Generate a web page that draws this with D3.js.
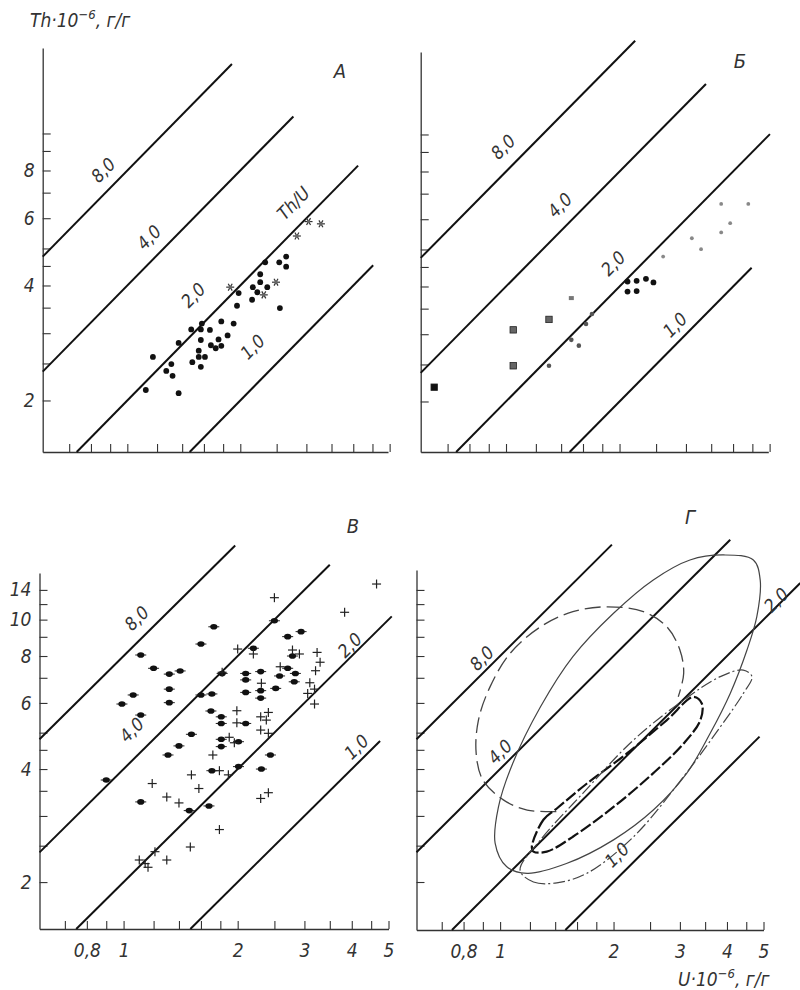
<!DOCTYPE html>
<html>
<head>
<meta charset="utf-8">
<script src="https://cdn.jsdelivr.net/npm/d3@7"></script>
<style>
  body { margin: 0; background: #fff; }
  text { font-family: "DejaVu Sans Condensed", "Liberation Sans Narrow", "DejaVu Sans", sans-serif; font-stretch: condensed; font-style: italic; fill: #333; }
</style>
</head>
<body>
<svg id="chart" width="800" height="990"></svg>
<script>
// axis ticks (U on x, Th on y, both 10^-6 g/g)
const uTicks = [0.7, 0.8, 0.9, 1, 1.2, 1.4, 1.6, 1.8, 2, 2.5, 3, 3.5, 4, 4.5, 5];
const uTickLabels = { 0.8: '0,8', 1: '1', 2: '2', 3: '3', 4: '4', 5: '5' };
const thTicksTop = [2, 2.5, 3, 3.5, 4, 4.5, 5, 6, 7, 8, 9, 10];
const thTicksBottom = [2, 2.5, 3, 3.5, 4, 4.5, 5, 6, 7, 8, 9, 10, 11, 12];
const thLabelsTop = { 2: '2', 4: '4', 6: '6', 8: '8' };
const thLabelsBottom = { 2: '2', 4: '4', 6: '6', 8: '8', 10: '10', 12: '14' };

// Th/U ratio lines and the U where each one stops, per panel
const ratios = [8, 4, 2, 1];
const ratioNames = ['8,0', '4,0', '2,0', '1,0'];
const lineEndA = [1.90, 2.77, 4.12, 4.52];
const lineEndB = [2.20, 3.39, 5.01, 4.48];
const lineEndV = [1.97, 3.50, 5.10, 4.75];
const lineEndG = [1.98, 4.08, 6.26, 4.88];

// panel А  [U, Th]
const aDots = [
  [2.65, 4.76], [2.33, 4.60], [2.54, 4.60], [2.65, 4.48], [2.26, 4.28], [2.16, 3.96],
  [2.26, 4.08], [2.36, 3.96], [2.22, 3.84], [1.98, 3.82], [2.15, 3.67], [1.96, 3.54],
  [2.55, 3.49], [1.58, 3.18], [1.78, 3.22], [1.48, 3.07], [1.57, 3.07], [1.66, 3.06],
  [1.92, 3.18], [1.57, 2.88], [1.85, 2.96], [1.75, 2.89], [1.37, 2.83], [1.67, 2.79],
  [1.72, 2.74], [1.78, 2.78], [1.55, 2.70], [1.17, 2.60], [1.49, 2.52], [1.55, 2.60],
  [1.61, 2.60], [1.57, 2.45], [1.31, 2.49], [1.27, 2.39], [1.32, 2.32], [1.12, 2.13],
  [1.37, 2.09]
];
const aStars = [[3.04, 5.88], [3.28, 5.80], [2.83, 5.39], [2.49, 4.08], [2.31, 3.78], [1.88, 3.96]];

// panel Б
const bSquares = [[0.645, 2.18], [1.045, 2.48], [1.045, 3.08], [1.30, 3.28]];
const bHalf = [[1.49, 3.73]];
const bGreyDots = [[1.30, 2.48], [1.49, 2.90], [1.56, 2.80], [1.63, 3.19], [1.69, 3.39]];
const bBlackDots = [[2.10, 4.12], [2.22, 4.14], [2.35, 4.19], [2.46, 4.10], [2.10, 3.88], [2.22, 3.89]];
const bSmallDots = [[2.61, 4.79], [3.11, 5.35], [3.29, 5.01], [3.72, 6.58], [3.93, 5.86], [3.72, 5.54], [4.39, 6.58]];

// panel В
const vDots = [
  [0.90, 3.74], [0.99, 5.96], [1.06, 6.30], [1.11, 8.05], [1.11, 5.57], [1.11, 3.27],
  [1.20, 7.42], [1.32, 7.16], [1.32, 6.53], [1.32, 6.01], [1.31, 4.36], [1.41, 7.30],
  [1.40, 4.61], [1.49, 3.10], [1.51, 4.95], [1.60, 8.61], [1.60, 6.30], [1.68, 3.19],
  [1.73, 9.57], [1.71, 6.34], [1.70, 5.71], [1.71, 3.96], [1.81, 5.51], [1.81, 5.29],
  [1.81, 4.80], [1.81, 4.59], [1.82, 7.19], [2.01, 4.73], [2.01, 4.06], [2.10, 7.19],
  [2.10, 6.91], [2.10, 6.40], [2.10, 5.29], [2.20, 8.39], [2.30, 7.27], [2.30, 6.47],
  [2.30, 6.18], [2.31, 4.00], [2.44, 4.36], [2.50, 9.93], [2.52, 6.56], [2.58, 7.08],
  [2.71, 9.01], [2.71, 7.42], [2.79, 8.00], [2.84, 7.19], [2.82, 6.83], [2.94, 9.29]
];
const vPlus = [
  [4.65, 12.44], [2.50, 11.44], [3.83, 10.46], [2.00, 8.35], [2.20, 8.10], [2.79, 8.30],
  [2.91, 8.10], [3.24, 8.18], [3.30, 7.70], [2.59, 7.49], [3.21, 7.31], [1.82, 7.24],
  [2.31, 6.77], [3.10, 6.79], [3.06, 6.36], [3.19, 6.53], [3.19, 5.96], [1.99, 5.72],
  [1.99, 5.31], [2.30, 5.51], [2.41, 5.66], [2.38, 5.40], [2.30, 5.08], [2.41, 4.98],
  [1.90, 4.86], [1.96, 4.70], [1.72, 4.36], [1.79, 3.96], [1.89, 3.86], [1.51, 3.86],
  [1.19, 3.66], [1.58, 3.55], [1.30, 3.37], [1.40, 3.25], [2.30, 3.34], [2.41, 3.46],
  [1.79, 2.76], [1.50, 2.48], [1.21, 2.41], [1.10, 2.29], [1.14, 2.24], [1.16, 2.19],
  [1.30, 2.29]
];

// panel Г: outlines of the groups
const gSolid = [
  [3.92, 14.87], [4.70, 14.42], [4.90, 12.76], [4.80, 10.18], [4.52, 8.30], [4.08, 6.36],
  [3.61, 4.98], [3.13, 3.90], [2.55, 3.11], [2.00, 2.59], [1.50, 2.24], [1.18, 2.11],
  [1.04, 2.20], [0.97, 2.54], [0.99, 3.17], [1.08, 4.14], [1.28, 5.86], [1.56, 7.97],
  [2.00, 10.40], [2.55, 12.76], [3.19, 14.42]
];
const gLongDash = [
  [1.41, 3.08], [1.18, 3.11], [1.02, 3.31], [0.90, 3.74], [0.864, 4.40], [0.876, 5.40],
  [0.941, 6.63], [1.063, 8.13], [1.28, 9.57], [1.56, 10.50], [1.92, 10.82], [2.40, 10.50],
  [2.77, 9.57], [3.00, 8.30], [3.07, 7.19], [2.97, 6.23]
];
const gBoldDash = [
  [1.214, 2.48], [1.303, 2.93], [1.414, 3.14], [1.70, 3.66], [2.17, 4.40], [2.77, 5.40],
  [3.26, 6.23], [3.43, 5.98], [3.40, 5.40], [3.07, 4.68], [2.55, 3.90], [2.00, 3.17],
  [1.56, 2.64], [1.33, 2.41], [1.226, 2.41]
];
const gDashDot = [
  [1.13, 2.15], [1.226, 2.00], [1.414, 1.99], [1.70, 2.11], [2.26, 2.64], [3.07, 3.82],
  [3.84, 5.18], [4.42, 6.36], [4.66, 7.05], [4.42, 7.34], [3.84, 7.05], [3.07, 6.11],
  [2.26, 4.78], [1.66, 3.45], [1.28, 2.59]
];

const panels = [
  { letter: 'А', xr: [42.7, 388], yr: [452, 48], uDom: [0.595, 4.95], thDom: [1.466, 16.74],
    thTicks: thTicksTop, thLabels: thLabelsTop, xLabels: false, lineEnd: lineEndA,
    labelU: [0.931, 1.237, 1.685, 2.447], labelOff: [17.5, 18.3, 26.8, 28.8], letterAt: [340, 78] },
  { letter: 'Б', xr: [420.7, 768.3], yr: [452, 52], uDom: [0.594, 4.96], thDom: [1.475, 16.44],
    thTicks: thTicksTop, thLabels: {}, xLabels: false, lineEnd: lineEndB,
    labelU: [1.069, 1.508, 2.106, 2.986], labelOff: [19.4, 18.8, 20.7, 14.3], letterAt: [740, 68] },
  { letter: 'В', xr: [39.5, 388.5], yr: [929, 573], uDom: [0.6, 5], thDom: [1.5, 13.31],
    thTicks: thTicksBottom, thLabels: thLabelsBottom, xLabels: true, lineEnd: lineEndV,
    labelU: [1.168, 1.155, 4.11, 4.34], labelOff: [17.5, 22, 9.1, 12.4], letterAt: [353, 533] },
  { letter: 'Г', xr: [416.5, 763.5], yr: [930, 570], uDom: [0.6, 5], thDom: [1.49, 13.56],
    thTicks: thTicksBottom, thLabels: {}, xLabels: true, lineEnd: lineEndG,
    labelU: [0.939, 1.054, 5.52, 2.195], labelOff: [11.3, 12.2, 5, 16.8], letterAt: [690, 524] }
];

const svg = d3.select('#chart');

panels.forEach(drawPanel);

function drawPanel(p, i) {
  const x = d3.scaleLog().domain(p.uDom).range(p.xr);
  const y = d3.scaleLog().domain(p.thDom).range(p.yr);
  const g = svg.append('g').attr('class', 'panel');

  // axes with inward ticks
  const xAxis = d3.axisBottom(x)
    .tickValues(uTicks)
    .tickSize(-8)
    .tickSizeOuter(0)
    .tickPadding(15)
    .tickFormat(d => p.xLabels ? (uTickLabels[d] || '') : '');
  const yAxis = d3.axisLeft(y)
    .tickValues(p.thTicks)
    .tickSize(-8)
    .tickSizeOuter(0)
    .tickPadding(8)
    .tickFormat(d => p.thLabels[d] || '');

  const gx = g.append('g').attr('transform', `translate(0,${p.yr[0]})`).call(xAxis);
  const gy = g.append('g').attr('transform', `translate(${p.xr[0]},0)`).call(yAxis);
  [gx, gy].forEach(a => {
    a.select('.domain').attr('stroke', '#333').attr('stroke-width', 1.3);
    a.selectAll('.tick line').attr('stroke', '#333').attr('stroke-width', 1.1);
    a.selectAll('.tick text').attr('fill', '#333').style('font-size', '19px');
  });

  // ratio lines Th = k * U
  const lines = g.append('g');
  ratios.forEach((k, j) => {
    const u0 = Math.max(p.uDom[0], p.thDom[0] / k);
    const u1 = p.lineEnd[j];
    lines.append('line')
      .attr('x1', x(u0)).attr('y1', y(k * u0))
      .attr('x2', x(u1)).attr('y2', y(k * u1))
      .attr('stroke', '#111')
      .attr('stroke-width', 2);

    const lu = p.labelU[j];
    const px = x(lu), py = y(k * lu);
    const ang = Math.atan2(y(k * lu * 2) - py, x(lu * 2) - px);
    const off = p.labelOff[j];
    lines.append('text')
      .attr('transform', `translate(${px + off * Math.sin(ang)},${py - off * Math.cos(ang)}) rotate(${ang * 180 / Math.PI})`)
      .attr('text-anchor', 'middle')
      .attr('dy', '0.35em')
      .style('font-size', '18px')
      .text(ratioNames[j]);

    if (i === 0 && k === 2) {
      const tu = 3.02, tx = x(tu), ty = y(k * tu);
      lines.append('text')
        .attr('transform', `translate(${tx + 19.7 * Math.sin(ang)},${ty - 19.7 * Math.cos(ang)}) rotate(${ang * 180 / Math.PI})`)
        .attr('text-anchor', 'middle')
        .attr('dy', '0.35em')
        .style('font-size', '18px')
        .text('Th/U');
    }
  });

  g.append('text')
    .attr('x', p.letterAt[0]).attr('y', p.letterAt[1])
    .attr('text-anchor', 'middle')
    .style('font-size', '20px')
    .text(p.letter);

  const marks = g.append('g');
  if (i === 0) {
    marks.selectAll('circle.dot').data(aDots).join('circle')
      .attr('class', 'dot')
      .attr('cx', d => x(d[0])).attr('cy', d => y(d[1]))
      .attr('r', 2.9).attr('fill', '#111');
    const star = marks.selectAll('g.star').data(aStars).join('g')
      .attr('class', 'star')
      .attr('transform', d => `translate(${x(d[0])},${y(d[1])})`);
    [0, 60, 120].forEach(a => {
      star.append('line')
        .attr('x1', -4).attr('x2', 4).attr('y1', 0).attr('y2', 0)
        .attr('transform', `rotate(${a})`)
        .attr('stroke', '#333').attr('stroke-width', 1.2);
    });
    star.append('circle').attr('r', 1.6).attr('fill', '#666');
  }
  if (i === 1) {
    marks.selectAll('rect.sq').data(bSquares).join('rect')
      .attr('class', 'sq')
      .attr('x', d => x(d[0]) - 3.2).attr('y', d => y(d[1]) - 3.2)
      .attr('width', 6.4).attr('height', 6.4)
      .attr('fill', (d, j) => j === 0 ? '#111' : '#666')
      .attr('stroke', '#222').attr('stroke-width', 0.8);
    marks.selectAll('rect.half').data(bHalf).join('rect')
      .attr('class', 'half')
      .attr('x', d => x(d[0]) - 2.5).attr('y', d => y(d[1]) - 2)
      .attr('width', 5).attr('height', 4)
      .attr('fill', '#777');
    marks.selectAll('circle.grey').data(bGreyDots).join('circle')
      .attr('class', 'grey')
      .attr('cx', d => x(d[0])).attr('cy', d => y(d[1]))
      .attr('r', 2.3).attr('fill', '#555');
    marks.selectAll('circle.black').data(bBlackDots).join('circle')
      .attr('class', 'black')
      .attr('cx', d => x(d[0])).attr('cy', d => y(d[1]))
      .attr('r', 2.9).attr('fill', '#111');
    marks.selectAll('circle.small').data(bSmallDots).join('circle')
      .attr('class', 'small')
      .attr('cx', d => x(d[0])).attr('cy', d => y(d[1]))
      .attr('r', 1.9).attr('fill', '#888');
  }
  if (i === 2) {
    const dot = marks.selectAll('g.vd').data(vDots).join('g')
      .attr('class', 'vd')
      .attr('transform', d => `translate(${x(d[0])},${y(d[1])})`);
    dot.append('line').attr('x1', -5.5).attr('x2', 5.5)
      .attr('stroke', '#222').attr('stroke-width', 1);
    dot.append('ellipse').attr('rx', 3.6).attr('ry', 2.8).attr('fill', '#111');
    const plus = marks.selectAll('g.vp').data(vPlus).join('g')
      .attr('class', 'vp')
      .attr('transform', d => `translate(${x(d[0])},${y(d[1])})`);
    plus.append('line').attr('x1', -4.5).attr('x2', 4.5)
      .attr('stroke', '#222').attr('stroke-width', 1.2);
    plus.append('line').attr('y1', -4.5).attr('y2', 4.5)
      .attr('stroke', '#222').attr('stroke-width', 1.2);
  }
  if (i === 3) {
    const closed = d3.line().x(d => x(d[0])).y(d => y(d[1])).curve(d3.curveCatmullRomClosed);
    const open = d3.line().x(d => x(d[0])).y(d => y(d[1])).curve(d3.curveCatmullRom);
    marks.append('path').attr('d', closed(gSolid))
      .attr('fill', 'none').attr('stroke', '#444').attr('stroke-width', 1.2);
    marks.append('path').attr('d', open(gLongDash))
      .attr('fill', 'none').attr('stroke', '#444').attr('stroke-width', 1.3)
      .attr('stroke-dasharray', '16,6');
    marks.append('path').attr('d', closed(gBoldDash))
      .attr('fill', 'none').attr('stroke', '#111').attr('stroke-width', 2.2)
      .attr('stroke-dasharray', '12,3');
    marks.append('path').attr('d', closed(gDashDot))
      .attr('fill', 'none').attr('stroke', '#444').attr('stroke-width', 1.2)
      .attr('stroke-dasharray', '12,3,2,3');
  }
}

// axis titles
const yTitle = svg.append('text').attr('x', 30).attr('y', 27).style('font-size', '19px');
yTitle.append('tspan').text('Th·10');
yTitle.append('tspan').attr('dy', -8).style('font-size', '13px').text('−6');
yTitle.append('tspan').attr('dy', 8).text(', г/г');

const xTitle = svg.append('text').attr('x', 678).attr('y', 986).style('font-size', '19px');
xTitle.append('tspan').text('U·10');
xTitle.append('tspan').attr('dy', -8).style('font-size', '13px').text('−6');
xTitle.append('tspan').attr('dy', 8).text(', г/г');
</script>
</body>
</html>
